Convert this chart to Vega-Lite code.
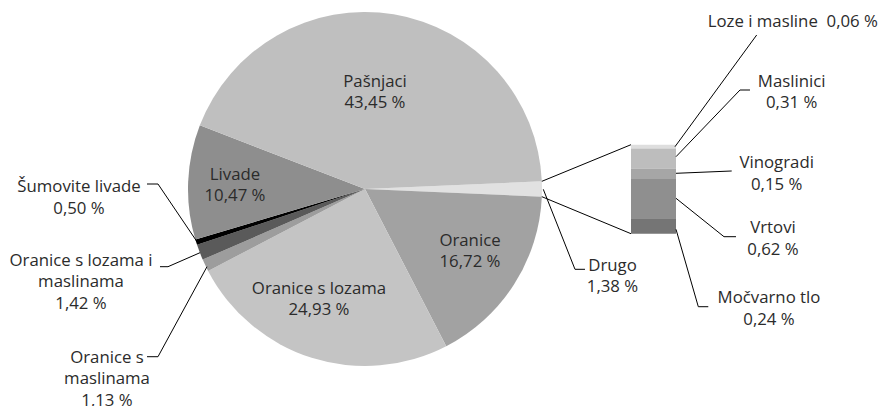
{
  "$schema": "https://vega.github.io/schema/vega-lite/v6.json",
  "width": 354,
  "height": 354,
  "autosize": {"type": "none"},
  "padding": {"left": 188, "top": 12, "right": 344, "bottom": 40},
  "background": "white",
  "config": {
    "view": {"stroke": null},
    "axis": {"disable": true},
    "legend": {"disable": true},
    "text": {"font": "Open Sans", "fontSize": 16.8, "fontWeight": 400, "fill": "#2b2b2b", "lineBreak": "\n", "lineHeight": 21.3, "align": "center", "baseline": "alphabetic"},
    "rule": {"stroke": "#000000", "strokeWidth": 1}
  },
  "datasets": {
    "pie": [
      {"name": "Drugo", "label": "Drugo", "pct": 1.38, "ord": 1},
      {"name": "Oranice", "label": "Oranice", "pct": 16.72, "ord": 2},
      {"name": "Oranice s lozama", "label": "Oranice s lozama", "pct": 24.93, "ord": 3},
      {"name": "Oranice s maslinama", "label": "Oranice s\nmaslinama", "pct": 1.13, "ord": 4},
      {"name": "Oranice s lozama i maslinama", "label": "Oranice s lozama i\nmaslinama", "pct": 1.42, "ord": 5},
      {"name": "Šumovite livade", "label": "Šumovite livade", "pct": 0.5, "ord": 6},
      {"name": "Livade", "label": "Livade", "pct": 10.47, "ord": 7},
      {"name": "Pašnjaci", "label": "Pašnjaci", "pct": 43.45, "ord": 8}
    ],
    "bar": [
      {"name": "Loze i masline", "label": "Loze i masline", "pct": 0.06, "ord": 1},
      {"name": "Maslinici", "label": "Maslinici", "pct": 0.31, "ord": 2},
      {"name": "Vinogradi", "label": "Vinogradi", "pct": 0.15, "ord": 3},
      {"name": "Vrtovi", "label": "Vrtovi", "pct": 0.62, "ord": 4},
      {"name": "Močvarno tlo", "label": "Močvarno tlo", "pct": 0.24, "ord": 5}
    ]
  },
  "resolve": {"scale": {"y": "independent", "color": "independent"}},
  "layer": [
    {
      "data": {"name": "pie"},
      "mark": {"type": "arc", "radius": 177},
      "encoding": {
        "theta": {"field": "pct", "type": "quantitative", "stack": true, "scale": {"range": [1.52745, 7.81064]}},
        "order": {"field": "ord", "type": "quantitative"},
        "color": {"field": "name", "type": "nominal",
          "scale": {"domain": ["Drugo", "Oranice", "Oranice s lozama", "Oranice s maslinama", "Oranice s lozama i maslinama", "Šumovite livade", "Livade", "Pašnjaci"],
                    "range": ["#e1e1e1", "#a2a2a2", "#c4c4c4", "#9d9d9d", "#5a5a5a", "#000000", "#8e8e8e", "#bfbfbf"]}}
      }
    },
    {
      "data": {"name": "bar"},
      "transform": [{"stack": "pct", "groupby": [], "sort": [{"field": "ord", "order": "descending"}], "as": ["s0", "s1"]}],
      "mark": {"type": "bar"},
      "encoding": {
        "x": {"datum": 150.28, "scale": {"domain": [-100, 100], "nice": false, "zero": false}},
        "x2": {"datum": 175.71},
        "y": {"field": "s0", "type": "quantitative", "scale": {"domain": [-2.0514, 3.4376], "nice": false, "zero": false}},
        "y2": {"field": "s1"},
        "color": {"field": "name", "type": "nominal",
          "scale": {"domain": ["Loze i masline", "Maslinici", "Vinogradi", "Vrtovi", "Močvarno tlo"],
                    "range": ["#dedede", "#bdbdbd", "#a6a6a6", "#8f8f8f", "#757575"]}}
      }
    },
    {
      "layer": [
        {
          "data": {"name": "pie"},
          "transform": [{"filter": "datum.name === 'Pašnjaci'"}, {"calculate": "datum.label + '\\n' + replace(format(datum.pct, '.2f'), '.', ',') + ' %'", "as": "txt"}],
          "mark": {"type": "text"},
          "encoding": {
            "x": {"datum": 5.65, "scale": {"domain": [-100, 100], "nice": false, "zero": false}},
            "y": {"datum": 57.8, "scale": {"domain": [-100, 100], "nice": false, "zero": false}},
            "text": {"field": "txt"}
          }
        },
        {
          "data": {"name": "pie"},
          "transform": [{"filter": "datum.name === 'Livade'"}, {"calculate": "datum.label + '\\n' + replace(format(datum.pct, '.2f'), '.', ',') + ' %'", "as": "txt"}],
          "mark": {"type": "text"},
          "encoding": {"x": {"datum": -73.45}, "y": {"datum": 5.08}, "text": {"field": "txt"}}
        },
        {
          "data": {"name": "pie"},
          "transform": [{"filter": "datum.name === 'Oranice'"}, {"calculate": "datum.label + '\\n' + replace(format(datum.pct, '.2f'), '.', ',') + ' %'", "as": "txt"}],
          "mark": {"type": "text"},
          "encoding": {"x": {"datum": 59.32}, "y": {"datum": -32.2}, "text": {"field": "txt"}}
        },
        {
          "data": {"name": "pie"},
          "transform": [{"filter": "datum.name === 'Oranice s lozama'"}, {"calculate": "datum.label + '\\n' + replace(format(datum.pct, '.2f'), '.', ',') + ' %'", "as": "txt"}],
          "mark": {"type": "text"},
          "encoding": {"x": {"datum": -25.99}, "y": {"datum": -59.32}, "text": {"field": "txt"}}
        },
        {
          "data": {"name": "pie"},
          "transform": [{"filter": "datum.name === 'Drugo'"}, {"calculate": "datum.label + '\\n' + replace(format(datum.pct, '.2f'), '.', ',') + ' %'", "as": "txt"}],
          "layer": [
            {"mark": {"type": "rule"}, "encoding": {"x": {"datum": 99.9}, "y": {"datum": 4.33}, "x2": {"datum": 150.28}, "y2": {"datum": 25.03}}},
            {"mark": {"type": "rule"}, "encoding": {"x": {"datum": 99.9}, "y": {"datum": -4.33}, "x2": {"datum": 150.28}, "y2": {"datum": -25.25}}},
            {"mark": {"type": "rule"}, "encoding": {"x": {"datum": 100.73}, "y": {"datum": -0.17}, "x2": {"datum": 118.64}, "y2": {"datum": -45.37}}},
            {"mark": {"type": "rule"}, "encoding": {"x": {"datum": 118.64}, "y": {"datum": -45.37}, "x2": {"datum": 124.29}, "y2": {"datum": -45.37}}},
            {"mark": {"type": "text"}, "encoding": {"x": {"datum": 139.83}, "y": {"datum": -46.16}, "text": {"field": "txt"}}}
          ]
        },
        {
          "data": {"name": "pie"},
          "transform": [{"filter": "datum.name === 'Šumovite livade'"}, {"calculate": "datum.label + '\\n' + replace(format(datum.pct, '.2f'), '.', ',') + ' %'", "as": "txt"}],
          "layer": [
            {"mark": {"type": "rule"}, "encoding": {"x": {"datum": -123.16}, "y": {"datum": 2.82}, "x2": {"datum": -116.95}, "y2": {"datum": 2.82}}},
            {"mark": {"type": "rule"}, "encoding": {"x": {"datum": -116.95}, "y": {"datum": 2.82}, "x2": {"datum": -94.92}, "y2": {"datum": -29.77}}},
            {"mark": {"type": "text"}, "encoding": {"x": {"datum": -161.58}, "y": {"datum": -1.86}, "text": {"field": "txt"}}}
          ]
        },
        {
          "data": {"name": "pie"},
          "transform": [{"filter": "datum.name === 'Oranice s lozama i maslinama'"}, {"calculate": "datum.label + '\\n' + replace(format(datum.pct, '.2f'), '.', ',') + ' %'", "as": "txt"}],
          "layer": [
            {"mark": {"type": "rule"}, "encoding": {"x": {"datum": -115.82}, "y": {"datum": -43.9}, "x2": {"datum": -111.3}, "y2": {"datum": -43.9}}},
            {"mark": {"type": "rule"}, "encoding": {"x": {"datum": -111.3}, "y": {"datum": -43.9}, "x2": {"datum": -93.22}, "y2": {"datum": -35.99}}},
            {"mark": {"type": "text"}, "encoding": {"x": {"datum": -160.45}, "y": {"datum": -43.5}, "text": {"field": "txt"}}}
          ]
        },
        {
          "data": {"name": "pie"},
          "transform": [{"filter": "datum.name === 'Oranice s maslinama'"}, {"calculate": "datum.label + '\\n' + replace(format(datum.pct, '.2f'), '.', ',') + ' %'", "as": "txt"}],
          "layer": [
            {"mark": {"type": "rule"}, "encoding": {"x": {"datum": -123.16}, "y": {"datum": -94.75}, "x2": {"datum": -116.95}, "y2": {"datum": -94.75}}},
            {"mark": {"type": "rule"}, "encoding": {"x": {"datum": -116.95}, "y": {"datum": -94.75}, "x2": {"datum": -89.27}, "y2": {"datum": -43.9}}},
            {"mark": {"type": "text"}, "encoding": {"x": {"datum": -145.76}, "y": {"datum": -98.31}, "text": {"field": "txt"}}}
          ]
        },
        {
          "data": {"name": "bar"},
          "transform": [{"filter": "datum.name === 'Loze i masline'"}, {"calculate": "datum.label + '\u00a0 ' + replace(format(datum.pct, '.2f'), '.', ',') + ' %'", "as": "txt"}],
          "layer": [
            {"mark": {"type": "rule"}, "encoding": {"x": {"datum": 221.3}, "y": {"datum": 87.01}, "x2": {"datum": 175.14}, "y2": {"datum": 23.9}}},
            {"mark": {"type": "text"}, "encoding": {"x": {"datum": 241.69}, "y": {"datum": 91.69}, "text": {"field": "txt"}}}
          ]
        },
        {
          "data": {"name": "bar"},
          "transform": [{"filter": "datum.name === 'Maslinici'"}, {"calculate": "datum.label + '\\n' + replace(format(datum.pct, '.2f'), '.', ',') + ' %'", "as": "txt"}],
          "layer": [
            {"mark": {"type": "rule"}, "encoding": {"x": {"datum": 217.51}, "y": {"datum": 55.93}, "x2": {"datum": 211.86}, "y2": {"datum": 55.93}}},
            {"mark": {"type": "rule"}, "encoding": {"x": {"datum": 211.86}, "y": {"datum": 55.93}, "x2": {"datum": 175.71}, "y2": {"datum": 18.25}}},
            {"mark": {"type": "text"}, "encoding": {"x": {"datum": 241.07}, "y": {"datum": 57.8}, "text": {"field": "txt"}}}
          ]
        },
        {
          "data": {"name": "bar"},
          "transform": [{"filter": "datum.name === 'Vinogradi'"}, {"calculate": "datum.label + '\\n' + replace(format(datum.pct, '.2f'), '.', ',') + ' %'", "as": "txt"}],
          "layer": [
            {"mark": {"type": "rule"}, "encoding": {"x": {"datum": 175.71}, "y": {"datum": 8.87}, "x2": {"datum": 207.18}, "y2": {"datum": 10.17}}},
            {"mark": {"type": "text"}, "encoding": {"x": {"datum": 232.6}, "y": {"datum": 11.69}, "text": {"field": "txt"}}}
          ]
        },
        {
          "data": {"name": "bar"},
          "transform": [{"filter": "datum.name === 'Vrtovi'"}, {"calculate": "datum.label + '\\n' + replace(format(datum.pct, '.2f'), '.', ',') + ' %'", "as": "txt"}],
          "layer": [
            {"mark": {"type": "rule"}, "encoding": {"x": {"datum": 175.71}, "y": {"datum": -5.25}, "x2": {"datum": 202.82}, "y2": {"datum": -26.95}}},
            {"mark": {"type": "rule"}, "encoding": {"x": {"datum": 202.82}, "y": {"datum": -26.95}, "x2": {"datum": 209.6}, "y2": {"datum": -26.95}}},
            {"mark": {"type": "text"}, "encoding": {"x": {"datum": 230.51}, "y": {"datum": -25.03}, "text": {"field": "txt"}}}
          ]
        },
        {
          "data": {"name": "bar"},
          "transform": [{"filter": "datum.name === 'Močvarno tlo'"}, {"calculate": "datum.label + '\\n' + replace(format(datum.pct, '.2f'), '.', ',') + ' %'", "as": "txt"}],
          "layer": [
            {"mark": {"type": "rule"}, "encoding": {"x": {"datum": 175.71}, "y": {"datum": -22.77}, "x2": {"datum": 188.31}, "y2": {"datum": -66.5}}},
            {"mark": {"type": "rule"}, "encoding": {"x": {"datum": 188.31}, "y": {"datum": -66.5}, "x2": {"datum": 193.95}, "y2": {"datum": -66.5}}},
            {"mark": {"type": "text"}, "encoding": {"x": {"datum": 228.25}, "y": {"datum": -64.58}, "text": {"field": "txt"}}}
          ]
        }
      ]
    }
  ]
}
